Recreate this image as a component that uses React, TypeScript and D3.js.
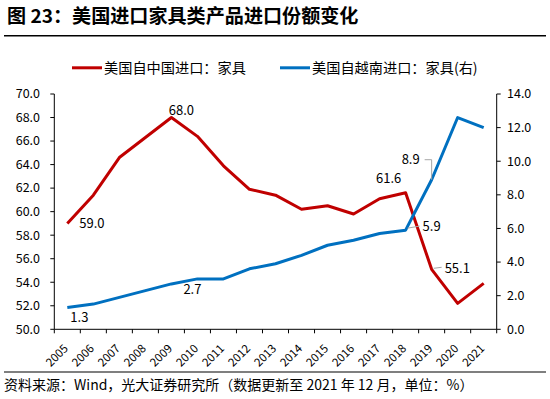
import React, { useEffect, useRef } from "react";
import * as d3 from "d3";

const years = ["2005", "2006", "2007", "2008", "2009", "2010", "2011", "2012", "2013", "2014", "2015", "2016", "2017", "2018", "2019", "2020", "2021"];
const chinaShare = [59.0, 61.4, 64.6, 66.3, 68.0, 66.4, 63.9, 61.9, 61.4, 60.2, 60.5, 59.8, 61.1, 61.6, 55.1, 52.2, 53.9];
const vietnamShare = [1.3, 1.5, 1.9, 2.3, 2.7, 3.0, 3.0, 3.6, 3.9, 4.4, 5.0, 5.3, 5.7, 5.9, 8.9, 12.6, 12.0];
const leftTicks = [50, 52, 54, 56, 58, 60, 62, 64, 66, 68, 70];
const rightTicks = [0, 2, 4, 6, 8, 10, 12, 14];

const title = "图 23：美国进口家具类产品进口份额变化";
const legendNames = ["美国自中国进口：家具", "美国自越南进口：家具(右)"];
const source = "资料来源：Wind，光大证券研究所（数据更新至 2021 年 12 月，单位：%）";

const FONT = "'Noto Sans CJK SC', 'Noto Sans', sans-serif";
const RED = "#C00000";
const BLUE = "#0070C0";

const App = () => {
  const ref = useRef<SVGSVGElement>(null);

  useEffect(() => {
    const svg = d3.select(ref.current);
    svg.selectAll("*").remove();

    const left = 54.3;
    const right = 496.7;
    const top = 94;
    const bottom = 329.3;

    const x = d3.scaleBand().domain(years).range([left, right]).padding(0);
    const yL = d3.scaleLinear().domain([50, 70]).range([bottom, top]);
    const yR = d3.scaleLinear().domain([0, 14]).range([bottom, top]);
    const cx = (i: number) => (x(years[i]) as number) + x.bandwidth() / 2;

    // title + rules
    svg.append("text").attr("x", 7).attr("y", 22.5)
      .attr("font-family", FONT).attr("font-size", 19.1).attr("font-weight", "bold")
      .attr("fill", "#000").text(title);
    svg.append("line").attr("x1", 4).attr("x2", 546).attr("y1", 35.7).attr("y2", 35.7)
      .attr("stroke", "#000").attr("stroke-width", 1.5);
    svg.append("line").attr("x1", 4).attr("x2", 546).attr("y1", 372).attr("y2", 372)
      .attr("stroke", "#000").attr("stroke-width", 1.2);
    svg.append("text").attr("x", 4).attr("y", 390)
      .attr("font-family", FONT).attr("font-size", 14).attr("fill", "#000").text(source);

    // legend
    const legendX = [72, 280];
    [RED, BLUE].forEach((c, i) => {
      svg.append("line").attr("x1", legendX[i]).attr("x2", legendX[i] + 30)
        .attr("y1", 67.8).attr("y2", 67.8).attr("stroke", c).attr("stroke-width", 3);
      svg.append("text").attr("x", legendX[i] + 32).attr("y", 67.8).attr("dy", "0.35em")
        .attr("font-family", FONT).attr("font-size", 14.2).attr("fill", "#000").text(legendNames[i]);
    });

    // axes
    const axisColor = "#000";
    svg.append("line").attr("x1", left).attr("x2", left).attr("y1", top).attr("y2", bottom).attr("stroke", axisColor);
    svg.append("line").attr("x1", right).attr("x2", right).attr("y1", top).attr("y2", bottom).attr("stroke", axisColor);
    svg.append("line").attr("x1", left).attr("x2", right).attr("y1", bottom).attr("y2", bottom).attr("stroke", axisColor);

    leftTicks.forEach((t) => {
      svg.append("line").attr("x1", left - 4).attr("x2", left).attr("y1", yL(t)).attr("y2", yL(t)).attr("stroke", axisColor);
      svg.append("text").attr("x", 40).attr("y", yL(t)).attr("dy", "0.35em").attr("text-anchor", "end")
        .attr("font-family", FONT).attr("font-size", 12.5).attr("fill", "#000").text(t.toFixed(1));
    });
    rightTicks.forEach((t) => {
      svg.append("line").attr("x1", right).attr("x2", right + 4).attr("y1", yR(t)).attr("y2", yR(t)).attr("stroke", axisColor);
      svg.append("text").attr("x", 507).attr("y", yR(t)).attr("dy", "0.35em").attr("text-anchor", "start")
        .attr("font-family", FONT).attr("font-size", 12.5).attr("fill", "#000").text(t.toFixed(1));
    });
    years.concat(["end"]).forEach((_, i) => {
      const tx = left + i * x.bandwidth();
      svg.append("line").attr("x1", tx).attr("x2", tx).attr("y1", bottom).attr("y2", bottom + 4).attr("stroke", axisColor);
    });
    years.forEach((yr, i) => {
      svg.append("text")
        .attr("transform", `translate(${cx(i) + 1.5},${bottom + 20}) rotate(-45)`)
        .attr("text-anchor", "end")
        .attr("font-family", FONT).attr("font-size", 11.5).attr("fill", "#000").text(yr);
    });

    // lines
    const lineL = d3.line<number>().x((_, i) => cx(i)).y((d) => yL(d));
    const lineR = d3.line<number>().x((_, i) => cx(i)).y((d) => yR(d));
    svg.append("path").attr("d", lineL(chinaShare)).attr("fill", "none")
      .attr("stroke", RED).attr("stroke-width", 3).attr("stroke-linejoin", "round");
    svg.append("path").attr("d", lineR(vietnamShare)).attr("fill", "none")
      .attr("stroke", BLUE).attr("stroke-width", 3).attr("stroke-linejoin", "round");

    // data labels
    const label = (px: number, py: number, txt: string, anchor = "start") =>
      svg.append("text").attr("x", px).attr("y", py).attr("dy", "0.35em").attr("text-anchor", anchor)
        .attr("font-family", FONT).attr("font-size", 13).attr("fill", "#000").text(txt);

    label(cx(0) + 12, yL(chinaShare[0]) + 0, chinaShare[0].toFixed(1));
    label(cx(4) + 10, yL(chinaShare[4]) - 7, chinaShare[4].toFixed(1), "middle");
    label(cx(13) - 17, yL(chinaShare[13]) - 14, chinaShare[13].toFixed(1), "middle");
    label(cx(14) + 13, yL(chinaShare[14]) - 1, chinaShare[14].toFixed(1));
    label(cx(0) + 3, yR(vietnamShare[0]) + 10, vietnamShare[0].toFixed(1));
    label(cx(4) + 12, yR(vietnamShare[4]) + 6, vietnamShare[4].toFixed(1));
    label(cx(13) + 17, yR(vietnamShare[13]) - 4, vietnamShare[13].toFixed(1));
    label(cx(14) - 30, yR(vietnamShare[14]) - 20, vietnamShare[14].toFixed(1));

    // leader lines
    const grey = "#A6A6A6";
    const p14 = [cx(14), yR(vietnamShare[14])];
    svg.append("path").attr("d", `M${p14[0] - 7},${p14[1] - 20}H${p14[0]}V${p14[1]}`)
      .attr("fill", "none").attr("stroke", grey).attr("stroke-width", 1);
    svg.append("path").attr("d", `M${cx(13) + 2},${yR(vietnamShare[13]) - 2}L${cx(13) + 14},${yR(vietnamShare[13]) - 4}`)
      .attr("fill", "none").attr("stroke", grey).attr("stroke-width", 1);
    svg.append("path").attr("d", `M${cx(14) + 2},${yL(chinaShare[14]) - 1}L${cx(14) + 10},${yL(chinaShare[14]) - 2}`)
      .attr("fill", "none").attr("stroke", grey).attr("stroke-width", 1);
  }, []);

  return (
    <div>
      <svg ref={ref} width={550} height={399} style={{ position: "absolute", left: 0, top: 0, background: "#fff" }}></svg>
    </div>
  );
};

export default App;
